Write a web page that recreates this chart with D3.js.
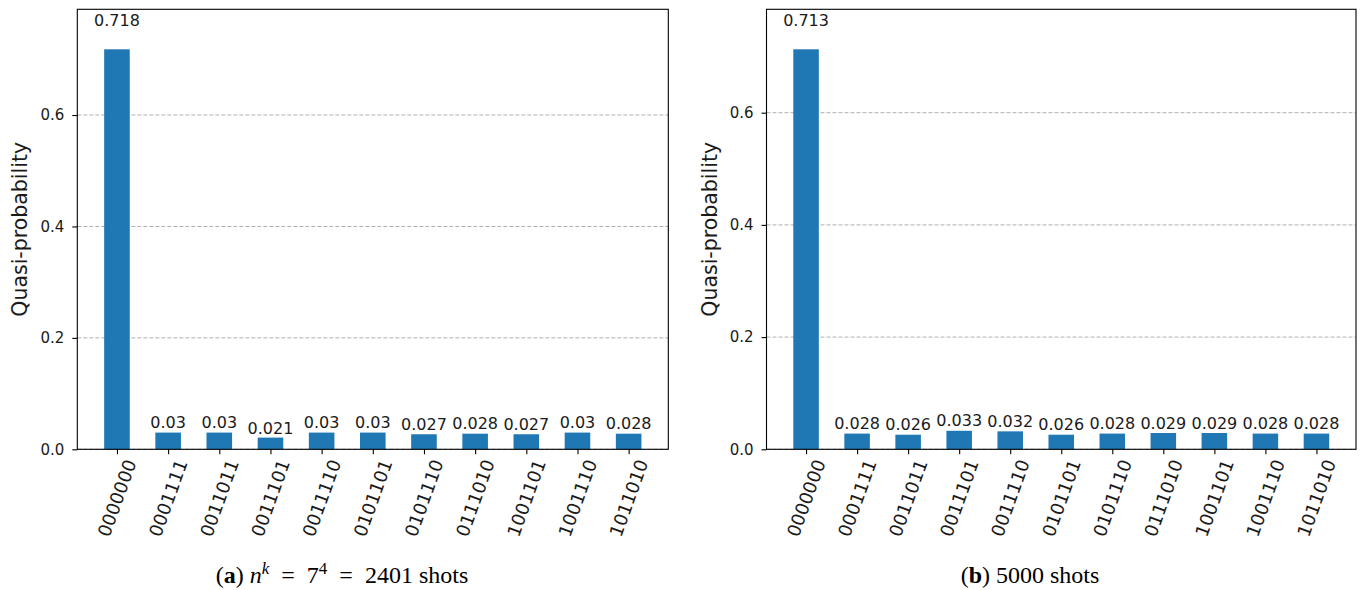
<!DOCTYPE html>
<html>
<head>
<meta charset="utf-8">
<script src="https://cdn.jsdelivr.net/npm/d3@7"></script>
<style>
  html, body { margin: 0; padding: 0; background: #fff; }
  svg { display: block; }
</style>
</head>
<body>
<svg id="chart" width="1362" height="590"></svg>
<script>
const states = ["0000000","0001111","0011011","0011101","0011110","0101101","0101110","0111010","1001101","1001110","1011010"];
const valuesA = [0.718,0.03,0.03,0.021,0.03,0.03,0.027,0.028,0.027,0.03,0.028];
const valuesB = [0.713,0.028,0.026,0.033,0.032,0.026,0.028,0.029,0.029,0.028,0.028];
const yTicks = [0.0, 0.2, 0.4, 0.6];
const yLabel = "Quasi-probability";

const svg = d3.select("#chart");
const FONT = "DejaVu Sans, sans-serif";
const TXT = "#1a1a1a";
const BAR = "#1f77b4";

function drawPanel(left, right, values) {
  const top = 9.3, bottom = 449.3;
  const g = svg.append("g");
  const n = states.length;
  const x = d3.scaleLinear().domain([-0.775, n - 1 + 0.775]).range([left, right]);
  const y = d3.scaleLinear().domain([0, d3.max(values) * 1.1]).range([bottom, top]);

  // grid
  g.selectAll("line.grid").data(yTicks).enter().append("line")
    .attr("x1", left).attr("x2", right)
    .attr("y1", d => y(d)).attr("y2", d => y(d))
    .attr("stroke", "#b0b0b0").attr("stroke-width", 1)
    .attr("stroke-dasharray", "4,2");

  // bars
  const bw = x(0.5) - x(0);
  g.selectAll("rect.bar").data(values).enter().append("rect")
    .attr("x", (d, i) => x(i) - bw / 2)
    .attr("width", bw)
    .attr("y", d => y(d))
    .attr("height", d => y(0) - y(d))
    .attr("fill", BAR);

  // bar labels
  g.selectAll("text.val").data(values).enter().append("text")
    .attr("x", (d, i) => x(i))
    .attr("y", d => y(d * 1.05) - 3.5)
    .attr("text-anchor", "middle")
    .attr("font-family", FONT).attr("font-size", 16).attr("fill", TXT)
    .text(d => String(+d.toPrecision(3)));

  // frame
  g.append("rect").attr("x", left).attr("y", top)
    .attr("width", right - left).attr("height", bottom - top)
    .attr("fill", "none").attr("stroke", "#000").attr("stroke-width", 1.1);

  // y axis ticks
  const yAxis = d3.axisLeft(y).tickValues(yTicks).tickFormat(d3.format(".1f"))
    .tickSize(5).tickPadding(8);
  const ya = g.append("g").attr("transform", `translate(${left},0)`).call(yAxis);
  ya.select(".domain").remove();
  ya.selectAll("line").attr("stroke", "#000").attr("stroke-width", 1.1);
  ya.selectAll("text").attr("font-family", FONT).attr("font-size", 15).attr("fill", TXT);

  // x axis ticks
  const xAxis = d3.axisBottom(x).tickValues(d3.range(n)).tickFormat(() => "").tickSize(5);
  const xa = g.append("g").attr("transform", `translate(0,${bottom})`).call(xAxis);
  xa.select(".domain").remove();
  xa.selectAll("line").attr("stroke", "#000").attr("stroke-width", 1.1);

  // rotated x labels (rotation=70, ha=center, va=top)
  const fs = 18;
  const ang = 70 * Math.PI / 180;
  states.forEach((s, i) => {
    const t = g.append("text")
      .attr("font-family", FONT).attr("font-size", fs).attr("fill", TXT)
      .attr("text-anchor", "middle").attr("dominant-baseline", "central")
      .text(s);
    const L = t.node().getComputedTextLength();
    const h = fs * 1.0;
    const bh = L * Math.sin(ang) + h * Math.cos(ang);
    const cx = x(i), cy = bottom + 5 + 3 + bh / 2;
    t.attr("transform", `translate(${cx},${cy}) rotate(-70)`);
  });

  // y label
  g.append("text")
    .attr("transform", `translate(${left - 50},${(top + bottom) / 2}) rotate(-90)`)
    .attr("text-anchor", "middle")
    .attr("font-family", FONT).attr("font-size", 20.5).attr("fill", TXT)
    .text(yLabel);
}

drawPanel(77.3, 668.3, valuesA);
drawPanel(766.5, 1356, valuesB);

// captions
const SERIF = "Liberation Serif, serif";
const CFS = 24, SFS = 17;
const capA = svg.append("text").attr("x", 342).attr("y", 583)
  .attr("text-anchor", "middle").attr("font-family", SERIF).attr("font-size", CFS).attr("fill", "#000")
  .attr("xml:space", "preserve");
capA.append("tspan").text("(");
capA.append("tspan").attr("font-weight", "bold").text("a");
capA.append("tspan").text(") ");
capA.append("tspan").attr("font-style", "italic").text("n");
capA.append("tspan").attr("font-size", SFS).attr("dy", -9).attr("font-style", "italic").text("k");
capA.append("tspan").attr("dy", 9).text("  =  7");
capA.append("tspan").attr("font-size", SFS).attr("dy", -9).text("4");
capA.append("tspan").attr("dy", 9).text("  =  2401 shots");

const capB = svg.append("text").attr("x", 1030).attr("y", 583)
  .attr("text-anchor", "middle").attr("font-family", SERIF).attr("font-size", CFS).attr("fill", "#000");
capB.append("tspan").text("(");
capB.append("tspan").attr("font-weight", "bold").text("b");
capB.append("tspan").text(") 5000 shots");
</script>
</body>
</html>
